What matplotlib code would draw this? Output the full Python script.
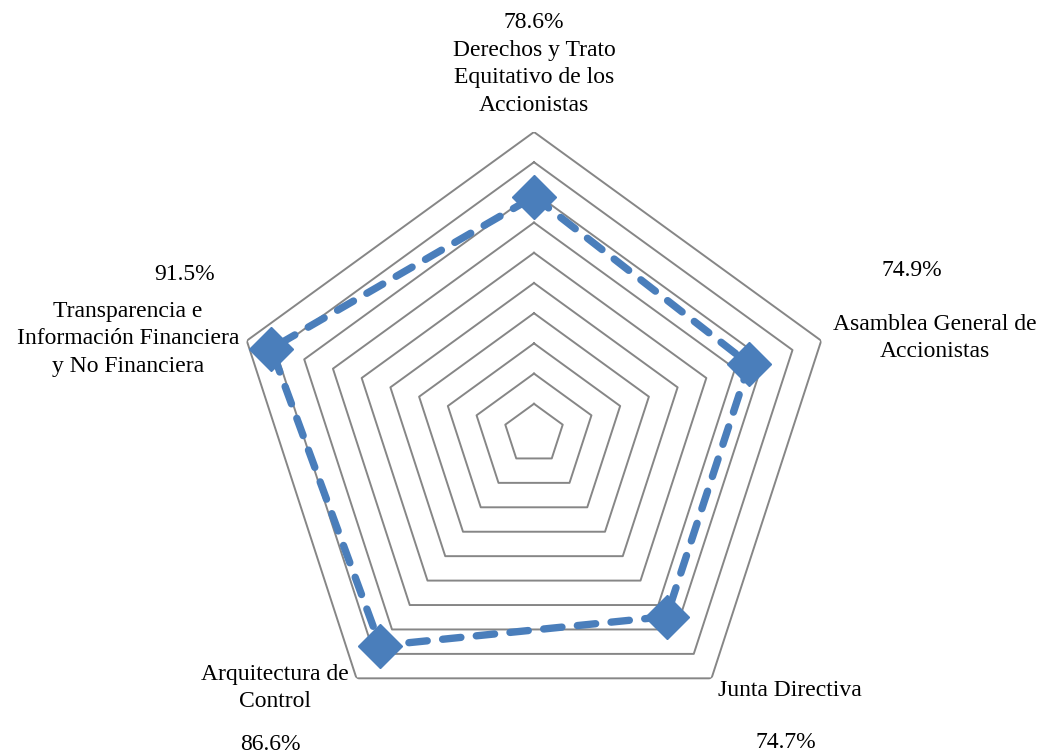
import matplotlib
matplotlib.use("Agg")
import matplotlib.pyplot as plt
import numpy as np

# categories clockwise from the top
categories = ["Derechos y Trato\nEquitativo de los\nAccionistas",
              "Asamblea General de\nAccionistas",
              "Junta Directiva",
              "Arquitectura de\nControl",
              "Transparencia e\nInformación Financiera\ny No Financiera"]
values = [78.6, 74.9, 74.7, 86.6, 91.5]
value_labels = ["78.6%", "74.9%", "74.7%", "86.6%", "91.5%"]
grid_levels = [10, 20, 30, 40, 50, 60, 70, 80, 90, 100]

plt.rcParams['font.family'] = ['Liberation Serif', 'DejaVu Serif']

W, H = 1041, 755
fig = plt.figure(figsize=(W / 100, H / 100), dpi=100)

# centre (534, 434) px, radius 302 px
cx, cy, R = 534, 434, 302
ax = fig.add_axes([(cx - R) / W, (H - cy - R) / H, 2 * R / W, 2 * R / H],
                  projection='polar')
ax.set_theta_offset(np.pi / 2)
ax.set_theta_direction(-1)
ax.set_ylim(0, 100)
ax.grid(False)
ax.set_xticks([])
ax.set_yticks([])
ax.spines['polar'].set_visible(False)
ax.patch.set_alpha(0)

n = len(values)
theta = np.arange(n) * 2 * np.pi / n
theta_closed = np.append(theta, theta[0])

for lev in grid_levels:
    ax.plot(theta_closed, [lev] * (n + 1), color='#868686', lw=1.4, zorder=1)

blue = '#4A7EBB'
ax.plot(theta_closed, values + [values[0]], color=blue, lw=5.3,
        dashes=(2.5, 2.1), dash_capstyle='round', zorder=2)
ax.plot(theta, values, ls='none', marker='D', ms=22, color=blue, zorder=3)

fs = 17
# category labels (pixel positions of text centres)
cat_pos = [(534, 78), (935, 338), (790, 690), (275, 688), (128, 339)]
val_pos = [(534, 22), (912, 270), (786, 742), (270, 745), (185, 275)]
for lab, (x, y) in zip(categories, cat_pos):
    fig.text(x / W, 1 - y / H, lab, ha='center', va='center', fontsize=fs,
             linespacing=1.38)
for lab, (x, y) in zip(value_labels, val_pos):
    fig.text(x / W, 1 - y / H, lab, ha='center', va='center', fontsize=fs)

fig.savefig("out.png", dpi=100)
